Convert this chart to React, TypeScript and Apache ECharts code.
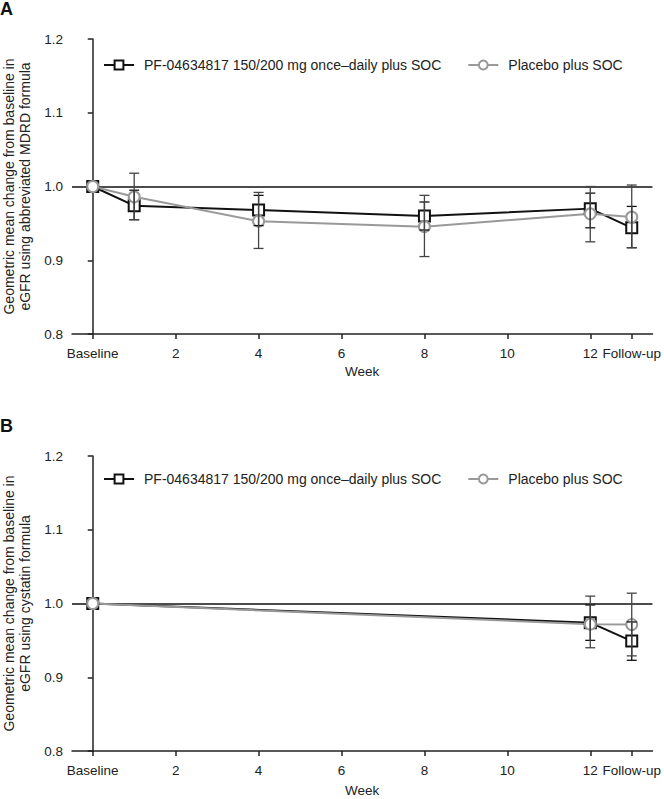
import React, { useEffect, useRef } from "react";
import * as echarts from "echarts";

// ---- Data ----
const seriesNames = ["PF-04634817 150/200 mg once\u2013daily plus SOC", "Placebo plus SOC"];
const tickValues = [0, 2, 4, 6, 8, 10, 12, 13];
const tickLabels = ["Baseline", "2", "4", "6", "8", "10", "12", "Follow-up"];
const yTicks = [0.8, 0.9, 1.0, 1.1, 1.2];

// Panel A (abbreviated MDRD formula)
const weeksA = [0, 1, 4, 8, 12, 13];
const pfA = [1.0, 0.974, 0.968, 0.96, 0.97, 0.944];
const pfALow = [null, 0.955, 0.947, 0.941, 0.944, 0.917];
const pfAHigh = [null, 0.995, 0.988, 0.979, 0.991, 0.973];
const pbA = [1.0, 0.986, 0.953, 0.9455, 0.963, 0.9585];
const pbALow = [null, 0.955, 0.916, 0.905, 0.925, 0.917];
const pbAHigh = [null, 1.018, 0.992, 0.988, 1.0, 1.002];

// Panel B (cystatin formula)
const weeksB = [0, 12, 13];
const pfB = [1.0, 0.974, 0.949];
const pfBLow = [null, 0.95, 0.923];
const pfBHigh = [null, 0.998, 0.975];
const pbB = [1.0, 0.972, 0.9715];
const pbBLow = [null, 0.94, 0.929];
const pbBHigh = [null, 1.01, 1.014];

const yLabelA = "Geometric mean change from baseline in\neGFR using abbreviated MDRD formula";
const yLabelB = "Geometric mean change from baseline in\neGFR using cystatin formula";

const FONT = "'Liberation Sans', Arial, Helvetica, sans-serif";
const BLACK = "#111";
const GRAY = "#999";

function pts(w: number[], v: number[]) {
  return w.map((x, i) => [x, v[i]]);
}
function errs(w: number[], lo: (number | null)[], hi: (number | null)[]) {
  const out: number[][] = [];
  w.forEach((x, i) => {
    if (lo[i] != null && hi[i] != null) out.push([x, lo[i] as number, hi[i] as number]);
  });
  return out;
}

function errorSeries(data: number[][], idx: number, color: string) {
  return {
    type: "custom",
    xAxisIndex: idx,
    yAxisIndex: idx,
    z: 5,
    silent: true,
    encode: { x: 0, y: [1, 2] },
    data,
    renderItem: (params: any, api: any) => {
      const x = api.value(0);
      const lo = api.value(1);
      const hi = api.value(2);
      const a = api.coord([x, hi]);
      const b = api.coord([x, lo]);
      const hw = 5;
      const style = { stroke: color, lineWidth: 1.3 };
      return {
        type: "group",
        children: [
          { type: "line", shape: { x1: a[0], y1: a[1], x2: b[0], y2: b[1] }, style },
          { type: "line", shape: { x1: a[0] - hw, y1: a[1], x2: a[0] + hw, y2: a[1] }, style },
          { type: "line", shape: { x1: b[0] - hw, y1: b[1], x2: b[0] + hw, y2: b[1] }, style },
        ],
      };
    },
  };
}

function lineSeries(name: string, data: number[][], idx: number, color: string, symbol: string, withRef: boolean) {
  const s: any = {
    type: "line",
    name,
    xAxisIndex: idx,
    yAxisIndex: idx,
    data,
    symbol,
    symbolSize: 11,
    showAllSymbol: true,
    z: 3,
    lineStyle: { color, width: 2 },
    itemStyle: { color, borderColor: color, borderWidth: 2 },
  };
  if (withRef) {
    s.markLine = {
      silent: true,
      symbol: ["none", "none"],
      label: { show: false },
      lineStyle: { color: BLACK, width: 1.5, type: "solid" },
      data: [{ yAxis: 1.0 }],
      z: 1,
    };
  }
  return s;
}

function xAxisCfg(idx: number, gap: number) {
  return {
    type: "value",
    gridIndex: idx,
    min: -0.5,
    max: 13.5,
    axisLine: { show: true, onZero: false, lineStyle: { color: "#222", width: 1.5 } },
    axisTick: { show: true, customValues: tickValues, length: 5, lineStyle: { color: "#222", width: 1.5 } },
    axisLabel: {
      customValues: tickValues,
      formatter: (v: number) => {
        const i = tickValues.indexOf(v);
        return i >= 0 ? tickLabels[i] : "";
      },
      margin: 12,
      fontSize: 13.5,
      color: "#222",
      fontFamily: FONT,
    },
    splitLine: { show: false },
    name: "Week",
    nameLocation: "middle",
    nameGap: gap,
    nameTextStyle: { fontSize: 13.5, color: "#222", fontFamily: FONT },
  };
}

function yAxisCfg(idx: number) {
  return {
    type: "value",
    gridIndex: idx,
    min: 0.8,
    max: 1.2,
    axisLine: { show: true, lineStyle: { color: "#222", width: 1.5 } },
    axisTick: { show: true, customValues: yTicks, length: 5, lineStyle: { color: "#222", width: 1.5 } },
    axisLabel: {
      customValues: yTicks,
      formatter: (v: number) => v.toFixed(1),
      margin: 9,
      fontSize: 13.5,
      color: "#222",
      fontFamily: FONT,
    },
    splitLine: { show: false },
  };
}

function legendCfg(top: number) {
  return {
    data: seriesNames,
    left: 103,
    top,
    padding: 0,
    itemWidth: 30,
    itemHeight: 11,
    itemGap: 26,
    textStyle: { fontSize: 14, color: "#222", fontFamily: FONT, padding: [0, 0, 0, 5] },
    selectedMode: false,
  };
}

export default function App() {
  const ref = useRef<HTMLDivElement>(null);
  useEffect(() => {
    if (!ref.current) return;
    const chart = echarts.init(ref.current, null, { renderer: "svg" });
    chart.setOption({
      animation: false,
      backgroundColor: "#fff",
      grid: [
        { left: 72, top: 39, width: 581, height: 295 },
        { left: 72, top: 456, width: 581, height: 295 },
      ],
      xAxis: [xAxisCfg(0, 30), xAxisCfg(1, 32)],
      yAxis: [yAxisCfg(0), yAxisCfg(1)],
      legend: [legendCfg(58), legendCfg(472)],
      graphic: [
        { type: "text", left: 0, top: 0, style: { text: "A", fontSize: 18, fontWeight: "bold", fontFamily: FONT, fill: "#111" } },
        { type: "text", left: 0, top: 417, style: { text: "B", fontSize: 18, fontWeight: "bold", fontFamily: FONT, fill: "#111" } },
        {
          type: "text",
          x: 17,
          y: 186.5,
          rotation: Math.PI / 2,
          style: { text: yLabelA, fontSize: 14, lineHeight: 16, fontFamily: FONT, fill: "#222", align: "center", verticalAlign: "middle" },
        },
        {
          type: "text",
          x: 17,
          y: 603.5,
          rotation: Math.PI / 2,
          style: { text: yLabelB, fontSize: 14, lineHeight: 16, fontFamily: FONT, fill: "#222", align: "center", verticalAlign: "middle" },
        },
      ],
      series: [
        lineSeries(seriesNames[0], pts(weeksA, pfA), 0, BLACK, "emptyRect", true),
        lineSeries(seriesNames[1], pts(weeksA, pbA), 0, GRAY, "emptyCircle", false),
        errorSeries(errs(weeksA, pfALow, pfAHigh), 0, "#111"),
        errorSeries(errs(weeksA, pbALow, pbAHigh), 0, "#444"),
        lineSeries(seriesNames[0], pts(weeksB, pfB), 1, BLACK, "emptyRect", true),
        lineSeries(seriesNames[1], pts(weeksB, pbB), 1, GRAY, "emptyCircle", false),
        errorSeries(errs(weeksB, pfBLow, pfBHigh), 1, "#111"),
        errorSeries(errs(weeksB, pbBLow, pbBHigh), 1, "#444"),
      ],
    });
    return () => chart.dispose();
  }, []);
  return <div ref={ref} style={{ position: "absolute", left: 0, top: 0, width: 664, height: 799 }} />;
}
